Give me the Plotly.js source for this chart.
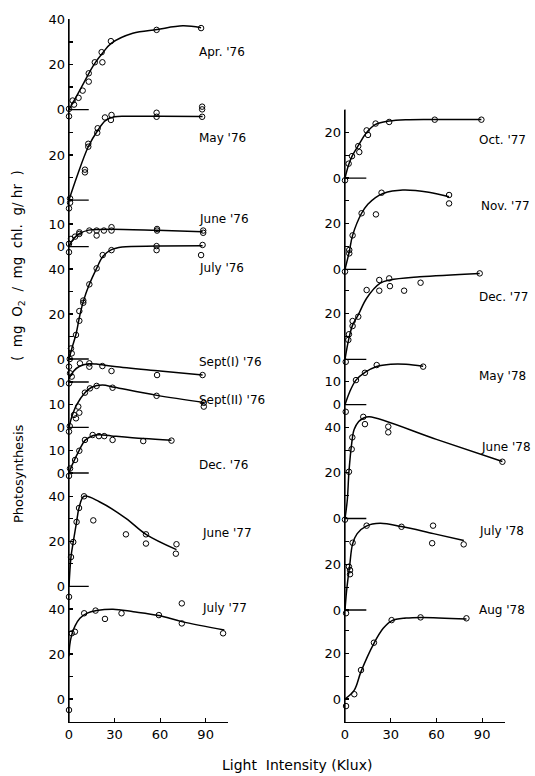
<!DOCTYPE html>
<html>
<head>
<meta charset="utf-8">
<script src="https://cdn.plot.ly/plotly-3.0.1.min.js"></script>
<style>html,body{margin:0;padding:0;background:#fff}#chart{width:535px;height:776px}</style>
</head>
<body>
<div id="chart"></div>
<script>
// ---------------- DATA ----------------
const seriesNames = ["Apr. '76","May '76","June '76","July '76","Sept(I) '76","Sept(II) '76","Dec. '76","June '77","July '77",
                     "Oct. '77","Nov. '77","Dec. '77","May '78","June '78","July '78","Aug '78"];
const xTickVals = [0, 30, 60, 90, 105];
const xTickText = ['0', '30', '60', '90', ''];

const apr76_x = [0, 0, 2.4, 3.3, 6.3, 9, 13, 13, 17, 21.5, 22, 27.6, 57.7, 87];
const apr76_y = [-3, 0.3, 4, 2.2, 5.2, 8.4, 16.1, 12.4, 21, 25.5, 21, 30.4, 35.4, 36.2];
const apr76_fitX = [0, 5, 10, 13, 17, 22, 28, 42, 58, 75, 87];
const apr76_fitY = [0, 6, 12.2, 16, 20.5, 25, 29.5, 33.9, 35.6, 37.2, 36.4];

const may76_x = [0, 0.7, 0.7, 10.5, 10.5, 12.7, 12.7, 18.6, 18.9, 23.7, 27.6, 28, 57.7, 57.7, 87.7, 87.7, 87.7];
const may76_y = [-3.7, -1.2, 0.7, 12.3, 13.5, 23.7, 25, 29.9, 31.9, 36.7, 35.6, 37.8, 38.8, 37, 37, 40.3, 41.5];
const may76_fitX = [0, 5, 12.7, 19, 24, 30, 40, 60, 88];
const may76_fitY = [0, 10, 23.7, 31, 35.3, 37, 37.2, 37.2, 37.1];

const jun76_x = [0, 0, 1.3, 4, 6.8, 6.8, 13.4, 18.2, 18.2, 23, 28, 28, 58, 58, 88.4, 88.4];
const jun76_y = [-2.5, 1.2, 3.4, 4.4, 5.6, 6.3, 7.1, 7.1, 4.9, 7.1, 8.6, 7.1, 7.1, 7.8, 7.1, 6.1];
const jun76_fitX = [0, 3, 7, 13, 20, 28, 58, 88];
const jun76_fitY = [0, 3.5, 5.8, 7.3, 7.6, 7.7, 7.2, 6.6];

const jul76_x = [0, 0.5, 1.3, 1.8, 4.6, 6.8, 6.8, 9.4, 9.4, 13.4, 18.2, 22.2, 28, 57.7, 57.7, 88, 87];
const jul76_y = [-3.4, 0, 4.7, 2.5, 10.7, 17, 21.3, 25, 26, 33.2, 40.3, 46.2, 48.4, 50.2, 48.4, 50.7, 46.2];
const jul76_fitX = [0, 2, 4.6, 7, 9.4, 13.4, 18.2, 22.2, 28, 35, 58, 88];
const jul76_fitY = [0, 5, 11, 19, 25.5, 33.2, 40.3, 45.5, 48.6, 49.8, 50.2, 50.3];

const sep1_76_x = [0, 0.7, 1.8, 7.2, 13.4, 13.4, 22, 28, 58, 88];
const sep1_76_y = [-0.6, 3.9, 2.4, 8.3, 8.3, 6.8, 7.1, 4.9, 3.1, 3.1];
const sep1_76_fitX = [0, 3, 7, 13, 18, 30, 60, 88];
const sep1_76_fitY = [1.5, 4.8, 7, 8.1, 8, 6.9, 4.9, 3.1];

const sep2_76_x = [0, 0.5, 3.3, 4.6, 6.1, 6.8, 10.5, 13.8, 18.2, 28.7, 57.7, 88.8, 88.8];
const sep2_76_y = [-1.9, 0.5, 5.5, 4, 9.2, 6.5, 15.4, 17.3, 18.4, 17.6, 14, 10.9, 9.2];
const sep2_76_fitX = [0, 2, 5, 10.5, 15, 22, 30, 58, 89];
const sep2_76_fitY = [0, 5, 10, 15.4, 17.8, 18.8, 17.8, 14.2, 11];

const dec76_x = [0, 0.7, 4, 6.8, 10.5, 15.6, 19.7, 23.2, 28.7, 48.9, 67.5];
const dec76_y = [-1.3, 2, 5.8, 9.9, 14.7, 16.9, 16.4, 16.4, 14.7, 14.2, 14.4];
const dec76_fitX = [0, 2, 6.8, 10.5, 15.6, 20, 28, 49, 67.5];
const dec76_fitY = [0, 3.5, 10.2, 14.5, 16.6, 17, 16.5, 15.3, 14.6];

const jun77_x = [0, 1.3, 2.8, 5, 6.6, 9.9, 16, 37.5, 50.7, 50.7, 70.8, 70.4];
const jun77_y = [-4.7, 13, 19.7, 28.6, 34.8, 40, 29.3, 23.1, 23.1, 19, 18.7, 14.5];
const jun77_fitX = [0, 1.3, 2.8, 5, 6.6, 9.9, 20, 37.5, 50.7, 70.8];
const jun77_fitY = [0, 13, 19.7, 28.6, 34.8, 40, 37.6, 30.2, 23.1, 16.3];

const jul77_x = [0, 1.8, 3.9, 10, 17.5, 23.7, 34.6, 59.2, 74.3, 74.3, 101.5];
const jul77_y = [-4.9, 29.2, 29.9, 38.1, 39.3, 35.6, 38.1, 37.3, 42.5, 33.6, 29.2];
const jul77_fitX = [0, 0.5, 1.8, 4, 7.2, 12, 18.2, 29, 42.4, 59.2, 74.3, 102.3];
const jul77_fitY = [19, 24, 28.5, 32.5, 35.9, 38.2, 39.3, 39.9, 38.8, 37.1, 34.4, 30.7];

const oct77_x = [0, 2.4, 4.6, 8.7, 9.4, 14.2, 15.1, 20.1, 29, 58.9, 89.5];
const oct77_y = [-1, 6.3, 9.6, 14, 11.4, 20.9, 18.9, 23.9, 24.6, 25.6, 25.6];
const oct77_fitX = [0, 2.4, 4.6, 8.7, 14.2, 20.1, 29, 40, 60, 89.5];
const oct77_fitY = [0, 5.8, 9.5, 14.2, 20, 23.5, 25, 25.6, 25.7, 25.7];

const nov77_x = [0, 2.8, 2.8, 5, 10.9, 20.3, 24, 68.3, 68.3];
const nov77_y = [-1, 7, 8.5, 14.9, 24.6, 24.1, 33.6, 32.6, 28.9];
const nov77_fitX = [0, 2.8, 5, 10.9, 15, 20, 25, 38, 55, 68.3];
const nov77_fitY = [0, 7.7, 14.9, 24.6, 28.5, 31.5, 33.3, 34.8, 33.8, 31.8];

const dec77_x = [0.5, 2.2, 2.6, 5, 5, 8.7, 14.2, 22.5, 22.5, 29, 29.5, 38.8, 49.6, 88.4];
const dec77_y = [-1.1, 8.5, 11, 14.6, 16.8, 18.7, 30.4, 34.8, 30.1, 35.5, 32.1, 30.1, 33.6, 37.7];
const dec77_fitX = [0, 2.5, 5, 8.7, 14.2, 22.9, 29.5, 49, 88.4];
const dec77_fitY = [0, 9, 15, 19.5, 26.8, 33.3, 34.8, 36.2, 37.7];

const may78_x = [0.5, 7.2, 13.1, 20.8, 51.3];
const may78_y = [-3.1, 10.8, 14, 17.4, 16.7];
const may78_fitX = [0, 3, 7.2, 13.1, 20.8, 30, 40, 51.3];
const may78_fitY = [0, 5.5, 10.8, 14.2, 16.8, 17.8, 17.8, 16.9];

const jun78_x = [0, 2.6, 4.4, 4.8, 12, 13.1, 28.4, 28.4, 103.3];
const jun78_y = [-0.5, 20.5, 30.4, 35.6, 44.6, 41.4, 40.3, 37.8, 24.9];
const jun78_fitX = [0, 1.5, 2.6, 4.4, 6, 9, 12, 16, 60, 103.3];
const jun78_fitY = [0, 8, 20.5, 33, 39, 42.5, 44, 44.6, 34.7, 25];

const jul78_x = [0.7, 2.6, 3.3, 3.3, 5, 14.2, 37.1, 57.8, 57.2, 77.9];
const jul78_y = [-1.4, 19, 17.5, 15.7, 29.5, 37, 36.5, 37, 29.3, 28.8];
const jul78_fitX = [0, 1, 2, 3, 5, 8, 14, 23, 37, 58, 78];
const jul78_fitY = [0, 8, 14, 19, 29, 33.5, 36.8, 38, 36.6, 33.5, 30.5];

const aug78_x = [0.7, 6.1, 10.5, 19, 30.6, 49.6, 79.7];
const aug78_y = [-3.1, 2.1, 12.7, 24.7, 34.6, 35.8, 35.4];
const aug78_fitX = [0, 6.1, 10.5, 19, 25.1, 30.6, 40, 50, 79.7];
const aug78_fitY = [0, 3.9, 12, 24.4, 31, 34.3, 35.5, 35.8, 35.1];

const pointsX = [apr76_x, may76_x, jun76_x, jul76_x, sep1_76_x, sep2_76_x, dec76_x, jun77_x, jul77_x,
                 oct77_x, nov77_x, dec77_x, may78_x, jun78_x, jul78_x, aug78_x];
const pointsY = [apr76_y, may76_y, jun76_y, jul76_y, sep1_76_y, sep2_76_y, dec76_y, jun77_y, jul77_y,
                 oct77_y, nov77_y, dec77_y, may78_y, jun78_y, jul78_y, aug78_y];
const fitsX = [apr76_fitX, may76_fitX, jun76_fitX, jul76_fitX, sep1_76_fitX, sep2_76_fitX, dec76_fitX, jun77_fitX, jul77_fitX,
               oct77_fitX, nov77_fitX, dec77_fitX, may78_fitX, jun78_fitX, jul78_fitX, aug78_fitX];
const fitsY = [apr76_fitY, may76_fitY, jun76_fitY, jul76_fitY, sep1_76_fitY, sep2_76_fitY, dec76_fitY, jun77_fitY, jul77_fitY,
               oct77_fitY, nov77_fitY, dec77_fitY, may78_fitY, jun78_fitY, jul78_fitY, aug78_fitY];

// y tick values / labels of each panel's own axis
const yTickVals = [[0,10,20,30,40],[0,10,20,30],[0,10],[0,10,20,30,40],[0],[0,10],[0,10],[0,10,20,30,40],[-10,0,10,20,30,40],
                   [0,10,20,30],[0,10,20,30],[0,10,20,30],[0,10],[0,10,20,30,40],[0,10,20,30],[-10,0,10,20,30]];
const yTickText = [['0','','20','','40'],['0','','20',''],['0','10'],['0','','20','','40'],['0'],['0','10'],['0','10'],['0','','20','','40'],['','0','','20','','40'],
                   ['0','','20',''],['0','','20',''],['0','','20',''],['0','10'],['0','','20','','40'],['0','','20',''],['','0','','20','']];

// ---------------- LAYOUT (positions & styles) ----------------
const W = 535, H = 776;
const M = {l: 69, r: 30, t: 19, b: 54};
const plotW = W - M.l - M.r, plotH = H - M.t - M.b;
const bottomPx = H - M.b;
const colTopPx = [19, 109.5];
const colScale = [2.25, 2.28];           // px per unit
const colXDomain = [[0, 0.3656], [0.633, 1]];
const colOf = [0,0,0,0,0,0,0,0,0, 1,1,1,1,1,1,1];
const zeroPx = [109.5, 200, 246.5, 359, 382, 427.3, 473, 586.3, 699,
                178, 269.3, 359.3, 404.7, 518.5, 610, 699];
const fullBase = [false,false,false,false,false,false,false,false,true, false,false,false,false,false,false,true];
const baseLen = [13, 14];
const labelPx = [[197,52],[197,138],[197,219],[197,268],[197,362],[197,400],[197,465],[200,533],[200,608],
                 [477,140],[479,206],[477,297],[477,376],[479,447],[477,531],[477,610]];

const FONT = 'DejaVu Sans, Arial, sans-serif';
const px2paperX = p => (p - M.l) / plotW;
const px2paperY = p => (bottomPx - p) / plotH;

const traces = [];
const layout = {
  width: W, height: H, margin: {l: M.l, r: M.r, t: M.t, b: M.b, pad: 0},
  paper_bgcolor: '#fff', plot_bgcolor: 'rgba(0,0,0,0)', showlegend: false,
  font: {family: FONT, size: 13, color: '#000'},
  shapes: [], annotations: []
};

const yId = i => (i === 0 ? 'y' : 'y' + (i + 1));
const yKey = i => (i === 0 ? 'yaxis' : 'yaxis' + (i + 1));
const baseIdx = [0, 9];

for (let i = 0; i < seriesNames.length; i++) {
  const c = colOf[i];
  const s = colScale[c];
  const z = zeroPx[i];
  const xa = c === 0 ? 'x' : 'x2';
  const ax = {
    range: [(z - bottomPx) / s, (z - colTopPx[c]) / s + 0.02],
    anchor: xa, side: 'left', showgrid: false, zeroline: false,
    showline: true, linecolor: '#000', linewidth: 1.3,
    ticks: 'inside', ticklen: 4, tickwidth: 1.1, tickcolor: '#000',
    tickmode: 'array', tickvals: yTickVals[i], ticktext: yTickText[i],
    tickfont: {family: FONT, size: 13, color: '#000'}, fixedrange: true
  };
  if (i === baseIdx[c]) ax.domain = [0, (bottomPx - colTopPx[c]) / plotH];
  else ax.overlaying = yId(baseIdx[c]);
  layout[yKey(i)] = ax;

  traces.push({
    x: fitsX[i], y: fitsY[i], xaxis: xa, yaxis: yId(i), type: 'scatter', mode: 'lines',
    line: {color: '#000', width: 1.5, shape: 'spline', smoothing: 1}, hoverinfo: 'skip', cliponaxis: false
  });
  traces.push({
    x: pointsX[i], y: pointsY[i], xaxis: xa, yaxis: yId(i), type: 'scatter', mode: 'markers',
    marker: {symbol: 'circle-open', size: 5.5, color: '#000', line: {width: 1, color: '#000'}},
    hoverinfo: 'skip', cliponaxis: false
  });

  if (!fullBase[i]) {
    layout.shapes.push({type: 'line', xref: xa, yref: yId(i), x0: 0, x1: baseLen[c], y0: 0, y1: 0,
                        line: {color: '#000', width: 1.3}});
  }
  layout.annotations.push({
    text: seriesNames[i], xref: 'paper', yref: 'paper',
    x: px2paperX(labelPx[i][0]), y: px2paperY(labelPx[i][1]),
    xanchor: 'left', yanchor: 'middle', showarrow: false,
    font: {family: FONT, size: 12, color: '#000'}
  });
}

// vertical axis lines of the two columns (drawn as paper shapes as well)
for (let c = 0; c < 2; c++) {
  layout.shapes.push({type: 'line', xref: 'paper', yref: 'paper', layer: 'above',
    x0: colXDomain[c][0], x1: colXDomain[c][0], y0: 0, y1: px2paperY(colTopPx[c]),
    line: {color: '#000', width: 1.3}});
}

const xBase = {
  range: [0, 105], showgrid: false, zeroline: false, showline: true, linecolor: '#000', linewidth: 1.3,
  ticks: 'inside', ticklen: 4, tickwidth: 1.1, tickcolor: '#000',
  tickmode: 'array', tickvals: xTickVals, ticktext: xTickText,
  tickfont: {family: FONT, size: 13, color: '#000'}, fixedrange: true
};
layout.xaxis = Object.assign({}, xBase, {domain: colXDomain[0], anchor: 'y'});
layout.xaxis2 = Object.assign({}, xBase, {domain: colXDomain[1], anchor: 'y10'});
layout.xaxis3 = Object.assign({}, xBase, {domain: colXDomain[0], anchor: 'free', position: px2paperY(zeroPx[8]), showticklabels: false});
layout.xaxis4 = Object.assign({}, xBase, {domain: colXDomain[1], anchor: 'free', position: px2paperY(zeroPx[15]), showticklabels: false});

// axis titles
layout.annotations.push({
  text: 'Light\u00a0\u00a0Intensity\u00a0(Klux)', xref: 'paper', yref: 'paper',
  x: px2paperX(297), y: px2paperY(765), xanchor: 'center', yanchor: 'middle', showarrow: false,
  font: {family: FONT, size: 14, color: '#000'}
});
layout.annotations.push({
  text: 'Photosynthesis', xref: 'paper', yref: 'paper', textangle: -90,
  x: px2paperX(18), y: px2paperY(474), xanchor: 'center', yanchor: 'middle', showarrow: false,
  font: {family: FONT, size: 13, color: '#000'}
});
layout.annotations.push({
  text: '(\u00a0\u00a0mg\u00a0\u00a0O<sub>2</sub>\u00a0\u00a0/\u00a0\u00a0mg\u00a0\u00a0chl.\u00a0\u00a0g/\u00a0hr\u00a0\u00a0)', xref: 'paper', yref: 'paper', textangle: -90,
  x: px2paperX(18), y: px2paperY(266), xanchor: 'center', yanchor: 'middle', showarrow: false,
  font: {family: FONT, size: 13.5, color: '#000'}
});

Plotly.newPlot('chart', traces, layout, {displayModeBar: false, staticPlot: true});
</script>
</body>
</html>
